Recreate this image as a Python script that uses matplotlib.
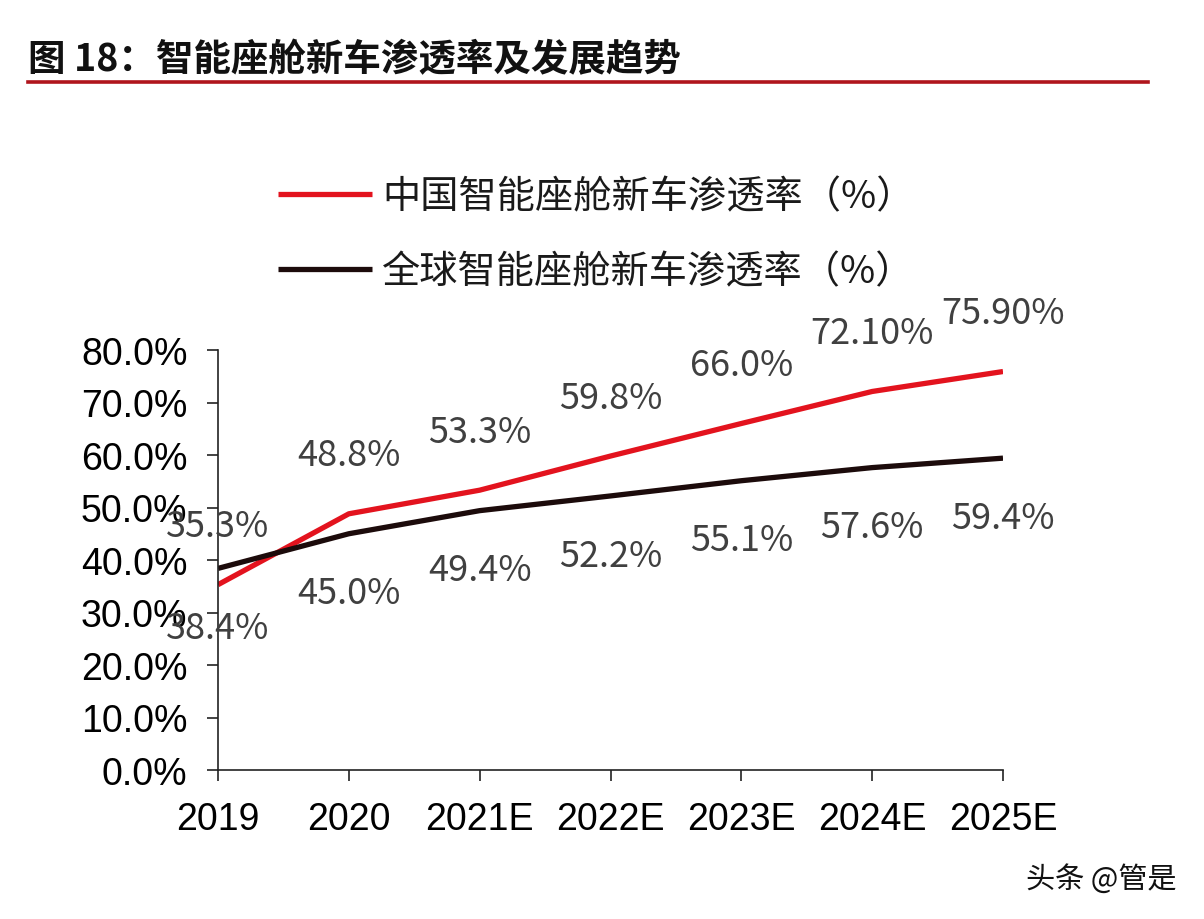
import numpy as np
import matplotlib.pyplot as plt
from matplotlib.ticker import FuncFormatter

plt.rcParams['font.family'] = ['Noto Sans CJK SC', 'DejaVu Sans']

# data
years = ["2019", "2020", "2021E", "2022E", "2023E", "2024E", "2025E"]
china = [35.3, 48.8, 53.3, 59.8, 66.0, 72.1, 75.9]
world = [38.4, 45.0, 49.4, 52.2, 55.1, 57.6, 59.4]
china_labels = ["35.3%", "48.8%", "53.3%", "59.8%", "66.0%", "72.10%", "75.90%"]
world_labels = ["38.4%", "45.0%", "49.4%", "52.2%", "55.1%", "57.6%", "59.4%"]

fig = plt.figure(figsize=(12.04, 9.2), dpi=100)
ax = fig.add_axes([218 / 1204, 1 - 771 / 920, 785 / 1204, 420 / 920])

x = np.arange(len(years))
red = "#e3131e"
dark = "#1c0b0b"
l1, = ax.plot(x, np.array(china) / 100, color=red, lw=3.8, solid_capstyle="butt",
              label="中国智能座舱新车渗透率（%）")
l2, = ax.plot(x, np.array(world) / 100, color=dark, lw=3.8, solid_capstyle="butt",
              label="全球智能座舱新车渗透率（%）")

for xi, v, t in zip(x, china, china_labels):
    ax.annotate(t, (xi, v / 100), xytext=(0, 42), textcoords="offset points",
                ha="center", va="center", fontsize=26, color="#404040")
for xi, v, t in zip(x, world, world_labels):
    ax.annotate(t, (xi, v / 100), xytext=(0, -43), textcoords="offset points",
                ha="center", va="center", fontsize=26, color="#404040")

ax.set_xlim(0, 6)
ax.set_ylim(0, 0.8)
ax.set_xticks(x)
ax.set_xticklabels(years)
ax.set_yticks(np.arange(0, 0.81, 0.1))
ax.yaxis.set_major_formatter(FuncFormatter(lambda v, p: f"{v * 100:.1f}%"))
for lab in ax.get_xticklabels() + ax.get_yticklabels():
    lab.set_fontfamily("Liberation Sans")
    lab.set_fontsize(27)
ax.tick_params(axis="both", length=8, width=1.2, color="#222222", direction="out")
ax.tick_params(axis="x", pad=14)
ax.tick_params(axis="y", pad=14)
for s in ["top", "right"]:
    ax.spines[s].set_visible(False)
for s in ["left", "bottom"]:
    ax.spines[s].set_color("#222222")
    ax.spines[s].set_linewidth(1.2)

fig.legend(handles=[l1, l2], loc="upper left", bbox_to_anchor=(278 / 1204, 1 - 178 / 920),
           frameon=False, fontsize=27.5, handlelength=2.45, handletextpad=0.28,
           labelspacing=0.95, borderpad=0, borderaxespad=0, labelcolor="#1a1a1a")

# title and rule
fig.text(28 / 1204, 1 - 60 / 920, "图 18：智能座舱新车渗透率及发展趋势", fontsize=27,
         fontweight="bold", va="center", ha="left", color="#111111")
fig.add_artist(plt.Line2D([28 / 1204, 1148 / 1204], [1 - 83 / 920] * 2,
                          color="#b0151c", lw=2.6, transform=fig.transFigure))

fig.text(1176 / 1204, 1 - 880 / 920, "头条 @管是", fontsize=21, ha="right", va="center",
         color="#111111")

fig.savefig("out.png", dpi=100)
